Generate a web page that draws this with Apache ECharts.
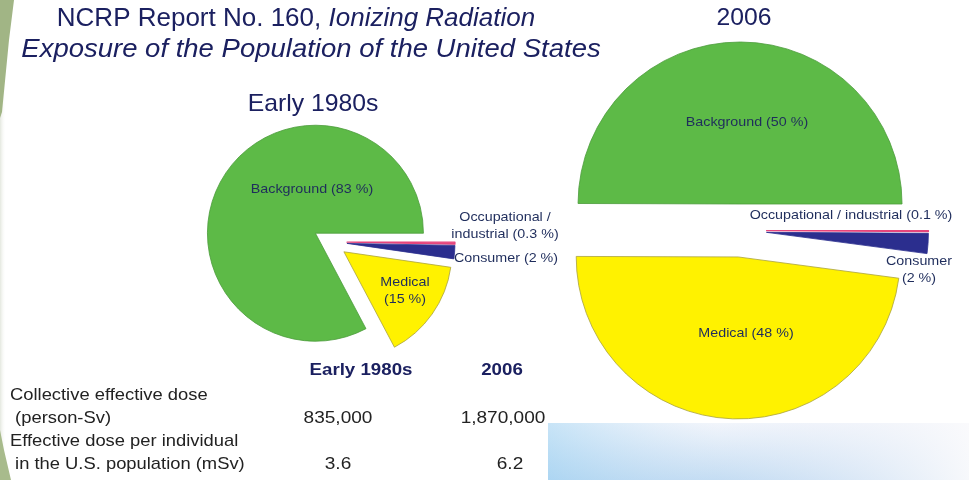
<!DOCTYPE html>
<html lang="en">
<head>
    <meta charset="UTF-8">
    <title>NCRP Report No. 160</title>
    <script src="https://cdn.jsdelivr.net/npm/echarts@6/dist/echarts.min.js"></script>
    <style>
        html, body { margin: 0; padding: 0; background: #fff; }
        #main { width: 969px; height: 480px; }
    </style>
</head>
<body>
<div id="main"></div>
<script type="text/javascript">
    // slice order: clockwise from 3 o'clock
    const categories = ['Occupational / industrial', 'Consumer', 'Medical', 'Background'];
    const share1980s = [0.3, 2, 15, 83];
    const share2006 = [0.1, 2, 48, 50];

    const tableHeader = ['Early 1980s', '2006'];
    const tableRows = [
        ['Collective effective dose', ' (person-Sv)'],
        ['Effective dose per individual', ' in the U.S. population (mSv)']
    ];
    const dose1980s = ['835,000', '3.6'];
    const dose2006 = ['1,870,000', '6.2'];

    const sliceColors = ['#e6457c', '#2b2e8e', '#fff200', '#5dba47'];
    const sliceBorders = ['#e6457c', '#2b2e8e', '#a9a23c', '#4b9c3b'];
    const navy = '#1b2060';
    const font = 'Liberation Sans, Arial';

    // label text layout for each pie (line breaks differ between the two)
    const labelText = {
        left: ['Occupational /\nindustrial ({v} %)', 'Consumer ({v} %)', 'Medical\n({v} %)', 'Background ({v} %)'],
        right: ['Occupational / industrial ({v} %)', 'Consumer\n({v} %)', 'Medical ({v} %)', 'Background ({v} %)']
    };
    const labelPos = {
        left: [[505, 226], [506, 258], [405, 291], [312, 189]],
        right: [[851, 215], [919, 270], [746, 333], [747, 122]]
    };

    function buildData(values) {
        return categories.map(function (name, i) {
            return {
                name: name,
                value: values[i],
                selected: true,
                itemStyle: {
                    color: sliceColors[i],
                    borderColor: sliceBorders[i],
                    borderWidth: i === 0 ? 1.2 : 0.8
                }
            };
        });
    }

    function pieSeries(values, center, radius, offset) {
        return {
            type: 'pie',
            center: center,
            radius: radius,
            startAngle: 0,
            clockwise: true,
            selectedMode: 'multiple',
            selectedOffset: offset,
            silent: true,
            label: { show: false },
            labelLine: { show: false },
            data: buildData(values)
        };
    }

    function txt(x, y, text, f, fill, align, sx, extra) {
        return {
            type: 'text', x: x, y: y, scaleX: sx || 1, z: 100,
            style: Object.assign({
                x: 0, y: 0, align: align || 'center', verticalAlign: 'middle',
                text: text, font: f, fill: fill
            }, extra || {})
        };
    }

    const graphics = [];

    // decorative left stripe
    graphics.push({
        type: 'rect', shape: { x: 0, y: 0, width: 6, height: 480 },
        style: { fill: new echarts.graphic.LinearGradient(0, 0, 1, 0, [
            { offset: 0, color: '#e4e8df' }, { offset: 1, color: 'rgba(255,255,255,0)' }]) }
    });
    graphics.push({
        type: 'polygon', shape: { points: [[0, 0], [14, 0], [9, 40], [2, 112], [0, 118]] },
        style: { fill: '#a1b585' }
    });
    graphics.push({
        type: 'polygon', shape: { points: [[0, 430], [4, 450], [11, 480], [0, 480]] },
        style: { fill: '#a8bb8c' }
    });

    // light blue panel bottom right
    graphics.push({
        type: 'rect', shape: { x: 548, y: 423, width: 421, height: 57 },
        style: { fill: new echarts.graphic.LinearGradient(0, 0, 0, 1, [
            { offset: 0, color: '#f8fafd' }, { offset: 1, color: '#bcdaf2' }]) }
    });
    graphics.push({
        type: 'rect', shape: { x: 548, y: 423, width: 421, height: 57 },
        style: { fill: new echarts.graphic.LinearGradient(0, 0, 1, 0, [
            { offset: 0, color: 'rgba(160,210,242,0.55)' }, { offset: 0.4, color: 'rgba(222,230,246,0.25)' },
            { offset: 1, color: 'rgba(250,250,252,0.95)' }]) }
    });

    // title
    graphics.push(txt(296, 19, '{n|NCRP Report No. 160, }{i|Ionizing Radiation}', null, navy, 'center', 1.04, {
        font: undefined,
        rich: {
            n: { fontFamily: font, fontSize: 25, fill: navy },
            i: { fontFamily: font, fontSize: 25, fontStyle: 'italic', fill: navy }
        }
    }));
    graphics.push(txt(311, 50, 'Exposure of the Population of the United States', 'italic 25px ' + font, navy, 'center', 1.1));
    graphics.push(txt(313, 104, 'Early 1980s', '24px ' + font, navy, 'center', 1.03));
    graphics.push(txt(744, 18, '2006', '24px ' + font, navy, 'center', 1.03));

    // pie labels, text taken from the data arrays
    [['left', share1980s], ['right', share2006]].forEach(function (pie) {
        const key = pie[0];
        pie[1].forEach(function (v, i) {
            const p = labelPos[key][i];
            graphics.push(txt(p[0], p[1], labelText[key][i].replace('{v}', v), '13px ' + font, '#1f2d5c', 'center', 1.1,
                { lineHeight: 17 }));
        });
    });

    // table
    const headX = [361, 502];
    tableHeader.forEach(function (h, i) {
        graphics.push(txt(headX[i], 370, h, 'bold 17px ' + font, navy, 'center', 1.1));
    });
    tableRows.forEach(function (lines, r) {
        lines.forEach(function (line, k) {
            graphics.push(txt(10, 395 + r * 46 + k * 23, line, '17px ' + font, '#222', 'left', 1.08));
        });
        graphics.push(txt(338, 418 + r * 46, dose1980s[r], '17px ' + font, '#222', 'center', 1.12));
        graphics.push(txt(r === 0 ? 503 : 510, 418 + r * 46, dose2006[r], '17px ' + font, '#222', 'center', 1.12));
    });

    const chart = echarts.init(document.getElementById('main'));
    chart.setOption({
        animation: false,
        backgroundColor: '#ffffff',
        graphic: graphics,
        series: [
            pieSeries(share1980s, [330, 242], 108, 17),
            pieSeries(share2006, [740, 230.5], 162, 26.5)
        ]
    });
</script>
</body>
</html>
